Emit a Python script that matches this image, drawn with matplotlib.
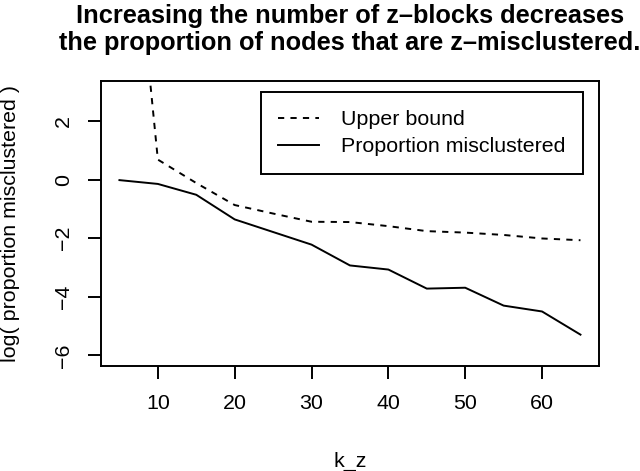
#!/usr/bin/env python3
"""Redraw of the R base-graphics figure: log proportion misclustered
vs number of z-blocks, with the theoretical upper bound dashed."""

import matplotlib
matplotlib.use("Agg")
import matplotlib.pyplot as plt

# values (log scale already applied)
k_z = [5, 10, 15, 20, 25, 30, 35, 40, 45, 50, 55, 60, 65]
prop_misclustered = [-0.02, -0.15, -0.52, -1.36, -1.79, -2.22, -2.93,
                     -3.07, -3.72, -3.69, -4.30, -4.50, -5.29]
upper_bound = [13.9, 0.68, -0.12, -0.87, -1.16, -1.44, -1.45,
               -1.59, -1.76, -1.81, -1.89, -2.01, -2.07]

x_ticks = [10, 20, 30, 40, 50, 60]
y_ticks = [-6, -4, -2, 0, 2]

title_lines = ["Increasing the number of z\u2013blocks decreases",
               "the proportion of nodes that are z\u2013misclustered."]

plt.rcParams["font.family"] = ["Liberation Sans", "DejaVu Sans"]
FS = 15.4   # R's default text size at this resolution
LW = 1.4

fig = plt.figure(figsize=(6.4, 4.71), dpi=100)
ax = fig.add_axes([0.1578, 0.2229, 0.778, 0.6051])

# lty=2 in R is short even dashes
ax.plot(k_z, upper_bound, color="black", linewidth=LW,
        linestyle=(0, (3.2, 3.2)), label="Upper bound")
ax.plot(k_z, prop_misclustered, color="black", linewidth=LW,
        label="Proportion misclustered")

# R pads the data range by 4% on each side; ylim was c(-6, 3)
ax.set_xlim(2.6, 67.4)
ax.set_ylim(-6.36, 3.36)
ax.set_xticks(x_ticks)
ax.set_yticks(y_ticks)
ax.set_yticklabels([str(v).replace("-", "\u2212") for v in y_ticks],
                   rotation=90, va="center")

for s in ax.spines.values():
    s.set_linewidth(LW)
ax.tick_params(axis="both", direction="out", length=9.4, width=LW,
               labelsize=FS, pad=11)

ax.set_xlabel("k_z", fontsize=FS)
ax.xaxis.set_label_coords(0.5, -0.302)
ax.set_ylabel("log( proportion misclustered )", fontsize=FS)
ax.yaxis.set_label_coords(-0.163, 0.5)

leg = ax.legend(loc="upper right", bbox_to_anchor=(0.968, 0.961),
                borderaxespad=0, fontsize=FS, fancybox=False,
                framealpha=1, edgecolor="black", handlelength=1.9,
                handletextpad=1.0, borderpad=0.84, labelspacing=0.38)
leg.get_frame().set_linewidth(LW)

# title centred over the plot region like R's main=
cx = 0.1578 + 0.778 / 2
fig.text(cx, 1 - 23 / 471, title_lines[0], ha="center", va="baseline",
         fontsize=18.3, fontweight="bold")
fig.text(cx, 1 - 50 / 471, title_lines[1], ha="center", va="baseline",
         fontsize=18.3, fontweight="bold")

fig.savefig("out.png", dpi=100)
